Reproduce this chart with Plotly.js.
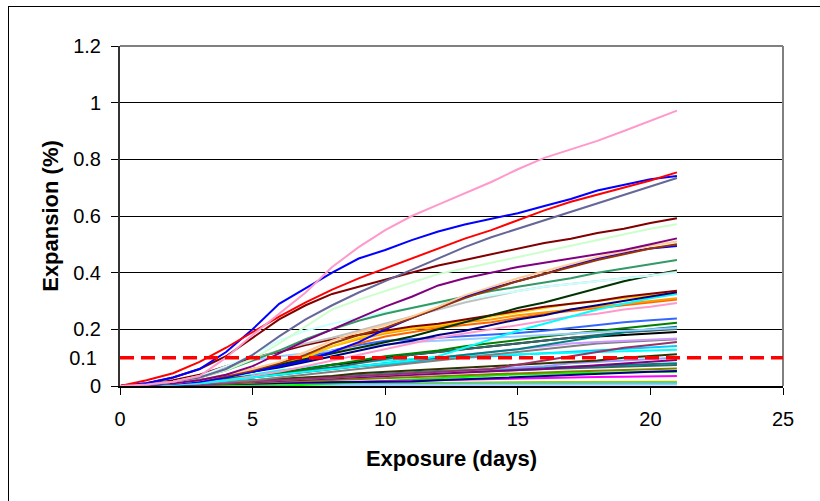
<!DOCTYPE html>
<html>
<head>
<meta charset="utf-8">
<script src="https://cdn.plot.ly/plotly-3.0.1.min.js"></script>
<style>
  html, body { margin: 0; padding: 0; background: #ffffff; }
  #wrap { position: relative; width: 820px; height: 501px; overflow: hidden; }
  #chart { position: absolute; left: 0; top: 0; width: 820px; height: 501px; }
  #frame { position: absolute; left: 8px; top: 6px; width: 900px; height: 600px;
           border-left: 1px solid #000; border-top: 1px solid #000; pointer-events: none; }
</style>
</head>
<body>
<div id="wrap">
  <div id="chart"></div>
  <div id="frame"></div>
</div>
<script>
// ---- data ----
const days = [0,1,2,3,4,5,6,7,8,9,10,11,12,13,14,15,16,17,18,19,20,21];
const threshold = 0.1;
const xTicks = [0, 5, 10, 15, 20, 25];
const yTicks = [0, 0.2, 0.4, 0.6, 0.8, 1, 1.2];

// low / flat series
const sYellowGreen = [0,0.001,0.002,0.003,0.004,0.005,0.006,0.007,0.008,0.009,0.01,0.011,0.012,0.012,0.013,0.013,0.014,0.014,0.014,0.015,0.015,0.015];
const sCyanLow     = [0,0.001,0.001,0.002,0.003,0.004,0.004,0.005,0.005,0.006,0.006,0.007,0.007,0.008,0.008,0.008,0.009,0.009,0.009,0.01,0.01,0.01];
const sLightBlue   = [0,0,0.001,0.001,0.002,0.002,0.002,0.003,0.003,0.003,0.003,0.004,0.004,0.004,0.004,0.004,0.005,0.005,0.005,0.005,0.005,0.005];
const sLime        = [0,0,0,0,0,0,0.001,0.004,0.008,0.013,0.018,0.023,0.028,0.033,0.038,0.041,0.043,0.045,0.046,0.048,0.049,0.05];
const sMagenta     = [0,0.001,0.002,0.004,0.006,0.008,0.01,0.012,0.014,0.016,0.018,0.02,0.022,0.024,0.026,0.028,0.03,0.031,0.032,0.033,0.034,0.035];
const sNavyLow     = [0,0.002,0.004,0.006,0.008,0.01,0.011,0.012,0.013,0.014,0.015,0.016,0.02,0.024,0.028,0.032,0.036,0.04,0.043,0.046,0.05,0.053];
const sOlive       = [0,0.001,0.003,0.005,0.008,0.011,0.014,0.017,0.02,0.023,0.026,0.03,0.034,0.038,0.042,0.045,0.048,0.051,0.054,0.057,0.06,0.062];
const sSlateLow    = [0,0.002,0.004,0.008,0.012,0.017,0.021,0.025,0.03,0.034,0.038,0.042,0.046,0.05,0.054,0.057,0.06,0.063,0.066,0.069,0.071,0.074];
const sTealLow     = [0,0.002,0.005,0.01,0.015,0.02,0.025,0.03,0.035,0.04,0.045,0.05,0.053,0.056,0.059,0.062,0.065,0.068,0.071,0.074,0.077,0.08];
const sPurpleLow   = [0,0.001,0.003,0.006,0.01,0.014,0.018,0.022,0.026,0.03,0.034,0.038,0.042,0.046,0.05,0.055,0.06,0.067,0.074,0.08,0.086,0.092];
const sPeriwinkle  = [0,0.002,0.004,0.008,0.012,0.016,0.02,0.025,0.03,0.035,0.04,0.045,0.05,0.055,0.06,0.065,0.07,0.08,0.085,0.09,0.095,0.1];
const sOliveDark   = [0,0.002,0.005,0.01,0.015,0.02,0.025,0.03,0.035,0.045,0.05,0.055,0.06,0.065,0.07,0.075,0.08,0.085,0.09,0.1,0.106,0.112];
const sSky         = [0,0.003,0.008,0.015,0.025,0.035,0.045,0.055,0.065,0.07,0.075,0.085,0.095,0.1,0.105,0.11,0.115,0.12,0.125,0.13,0.135,0.141];
const sAqua        = [0,0.003,0.008,0.015,0.025,0.04,0.055,0.065,0.075,0.085,0.09,0.095,0.1,0.105,0.11,0.112,0.115,0.118,0.12,0.122,0.125,0.128];
const sPlum        = [0,0.002,0.004,0.008,0.012,0.016,0.02,0.025,0.03,0.035,0.04,0.045,0.05,0.055,0.06,0.075,0.09,0.105,0.12,0.135,0.145,0.155];
const sGray        = [0,0.002,0.005,0.01,0.015,0.02,0.03,0.04,0.05,0.06,0.07,0.08,0.09,0.1,0.11,0.12,0.13,0.14,0.15,0.155,0.16,0.165];
const sLavender    = [0,0.002,0.005,0.01,0.02,0.03,0.04,0.05,0.06,0.07,0.08,0.09,0.1,0.11,0.12,0.13,0.14,0.15,0.155,0.16,0.165,0.168];
const sBlack       = [0,0.003,0.008,0.015,0.025,0.035,0.045,0.06,0.075,0.085,0.1,0.11,0.12,0.13,0.14,0.15,0.16,0.17,0.175,0.18,0.186,0.191];
const sSlate2      = [0,0.003,0.008,0.015,0.025,0.035,0.045,0.055,0.065,0.08,0.095,0.11,0.12,0.13,0.14,0.15,0.16,0.17,0.18,0.19,0.195,0.201];
const sTeal        = [0,0.002,0.006,0.012,0.02,0.03,0.04,0.05,0.06,0.07,0.08,0.09,0.1,0.11,0.12,0.13,0.145,0.16,0.175,0.19,0.2,0.209];
const sGreen       = [0,0.003,0.008,0.015,0.025,0.035,0.045,0.06,0.075,0.09,0.105,0.115,0.125,0.14,0.15,0.162,0.175,0.185,0.195,0.205,0.215,0.223];
const sBlue3       = [0,0.003,0.008,0.015,0.03,0.06,0.08,0.1,0.125,0.145,0.16,0.165,0.17,0.175,0.18,0.187,0.195,0.205,0.215,0.225,0.232,0.238];
const sPaleBlue    = [0,0.005,0.015,0.035,0.065,0.09,0.105,0.115,0.125,0.135,0.145,0.155,0.16,0.165,0.17,0.175,0.18,0.185,0.19,0.195,0.2,0.205];
// middle series
const sPink2       = [0,0.002,0.006,0.012,0.02,0.035,0.05,0.07,0.09,0.11,0.13,0.15,0.17,0.185,0.2,0.215,0.23,0.245,0.255,0.27,0.28,0.293];
const sOrangeRed   = [0,0.003,0.01,0.02,0.035,0.05,0.07,0.09,0.12,0.15,0.175,0.19,0.205,0.215,0.225,0.24,0.255,0.265,0.275,0.285,0.295,0.305];
const sOrange      = [0,0.003,0.01,0.02,0.04,0.06,0.08,0.105,0.14,0.165,0.185,0.2,0.21,0.225,0.235,0.25,0.26,0.27,0.28,0.29,0.3,0.31];
const sCyan        = [0,0.002,0.005,0.01,0.02,0.03,0.04,0.05,0.06,0.07,0.08,0.09,0.105,0.135,0.165,0.195,0.22,0.245,0.27,0.29,0.31,0.325];
const sGold        = [0,0.003,0.01,0.02,0.035,0.055,0.075,0.1,0.14,0.17,0.19,0.205,0.215,0.23,0.245,0.26,0.275,0.29,0.3,0.31,0.32,0.33];
const sNavy        = [0,0.003,0.01,0.02,0.035,0.05,0.065,0.085,0.105,0.125,0.145,0.16,0.18,0.195,0.215,0.235,0.25,0.27,0.285,0.3,0.315,0.331];
const sMaroon2     = [0,0.005,0.02,0.04,0.07,0.1,0.12,0.145,0.165,0.18,0.195,0.21,0.22,0.235,0.25,0.265,0.28,0.29,0.3,0.315,0.325,0.336];
const sDarkGreen   = [0,0.003,0.01,0.02,0.035,0.055,0.075,0.095,0.115,0.135,0.155,0.175,0.2,0.225,0.25,0.275,0.295,0.32,0.345,0.37,0.39,0.408];
const sSilver      = [0,0.005,0.015,0.03,0.06,0.095,0.125,0.15,0.17,0.195,0.22,0.245,0.27,0.295,0.315,0.335,0.35,0.36,0.37,0.38,0.39,0.403];
const sLightCyan   = [0,0.005,0.015,0.035,0.07,0.11,0.16,0.195,0.22,0.24,0.26,0.275,0.29,0.305,0.32,0.335,0.35,0.36,0.37,0.38,0.39,0.4];
const sSeaGreen    = [0,0.005,0.015,0.03,0.055,0.09,0.125,0.165,0.2,0.23,0.255,0.275,0.295,0.315,0.335,0.35,0.365,0.38,0.4,0.415,0.43,0.445];
const sBlue2       = [0,0.003,0.008,0.015,0.03,0.05,0.07,0.09,0.12,0.155,0.2,0.24,0.275,0.315,0.345,0.37,0.395,0.425,0.45,0.47,0.485,0.494];
const sBrown       = [0,0.005,0.01,0.02,0.035,0.055,0.08,0.11,0.15,0.18,0.205,0.24,0.275,0.31,0.34,0.37,0.395,0.42,0.445,0.465,0.485,0.5];
const sLightOrange = [0,0.005,0.01,0.02,0.04,0.06,0.085,0.12,0.16,0.19,0.215,0.245,0.28,0.32,0.35,0.38,0.405,0.43,0.455,0.475,0.495,0.51];
// upper series
const sPurple      = [0,0.005,0.01,0.02,0.04,0.07,0.115,0.16,0.2,0.24,0.28,0.315,0.355,0.38,0.4,0.42,0.435,0.45,0.465,0.48,0.5,0.521];
const sLightGreen  = [0,0.005,0.015,0.03,0.055,0.095,0.15,0.21,0.27,0.305,0.335,0.365,0.395,0.415,0.435,0.455,0.475,0.495,0.515,0.535,0.555,0.571];
const sMaroon      = [0,0.01,0.03,0.06,0.105,0.17,0.235,0.285,0.325,0.35,0.375,0.4,0.425,0.445,0.465,0.485,0.505,0.52,0.54,0.555,0.575,0.592];
const sSlate       = [0,0.005,0.015,0.03,0.06,0.11,0.175,0.235,0.285,0.33,0.37,0.41,0.45,0.49,0.525,0.555,0.585,0.615,0.645,0.675,0.705,0.734];
const sBlue        = [0,0.01,0.03,0.06,0.12,0.2,0.29,0.345,0.4,0.45,0.48,0.515,0.545,0.57,0.59,0.61,0.635,0.66,0.69,0.71,0.73,0.741];
const sRed         = [0,0.02,0.045,0.085,0.135,0.19,0.245,0.295,0.34,0.38,0.415,0.45,0.485,0.52,0.55,0.585,0.62,0.65,0.675,0.7,0.725,0.754];
const sPink        = [0,0.005,0.015,0.035,0.1,0.18,0.255,0.33,0.42,0.49,0.55,0.6,0.64,0.68,0.72,0.765,0.805,0.835,0.865,0.9,0.935,0.972];

const seriesValues = [
  sYellowGreen, sCyanLow, sLightBlue, sLime, sMagenta, sNavyLow, sOlive, sSlateLow, sTealLow,
  sPurpleLow, sPeriwinkle, sOliveDark, sSky, sAqua, sPlum, sGray, sLavender, sBlack, sSlate2,
  sTeal, sGreen, sBlue3, sPaleBlue, sPink2, sOrangeRed, sOrange, sCyan, sGold, sNavy, sMaroon2,
  sDarkGreen, sSilver, sLightCyan, sSeaGreen, sBlue2, sBrown, sLightOrange,
  sPurple, sLightGreen, sMaroon, sSlate, sBlue, sRed, sPink
];
const seriesColors = [
  '#99cc00', '#33cccc', '#99ccff', '#00ff00', '#ff00ff', '#000080', '#808000', '#336666', '#008080',
  '#800080', '#9999ff', '#333300', '#00ccff', '#00ffff', '#993366', '#808080', '#cc99ff', '#000000', '#336666',
  '#008080', '#008000', '#3366ff', '#99ccff', '#ff99cc', '#ff6600', '#ff9900', '#00ffff', '#ffcc00', '#000080', '#800000',
  '#003300', '#c0c0c0', '#ccffff', '#339966', '#0000ff', '#993300', '#ffcc99',
  '#800080', '#ccffcc', '#800000', '#666699', '#0000ff', '#ff0000', '#ff99cc'
];

const FONT = 'Liberation Sans, Arial, Helvetica, sans-serif';

const traces = seriesValues.map((vals, i) => ({
  type: 'scatter', mode: 'lines', x: days, y: vals,
  line: { color: seriesColors[i], width: 2 },
  hoverinfo: 'skip', showlegend: false
}));
// invisible trace that carries the extra 0.1 label axis
traces.push({ type: 'scatter', mode: 'lines', x: [0], y: [threshold], yaxis: 'y2',
  line: { width: 0 }, hoverinfo: 'skip', showlegend: false });

const layout = {
  width: 820, height: 501,
  margin: { l: 120, r: 37, t: 46, b: 115 },
  paper_bgcolor: '#ffffff', plot_bgcolor: '#ffffff',
  font: { family: FONT, color: '#000000', size: 20 },
  showlegend: false,
  xaxis: {
    range: [0, 25], tickvals: xTicks, ticks: 'outside', ticklen: 7, tickwidth: 1, tickcolor: '#000',
    showgrid: false, zeroline: false, showline: true, linecolor: '#000', linewidth: 1.5,
    tickfont: { family: FONT, size: 20 }, ticklabelstandoff: 7,
    title: { text: 'Exposure (days)', font: { family: FONT, size: 22, weight: 'bold' }, standoff: 22 },
    fixedrange: true
  },
  yaxis: {
    range: [0, 1.2], tickvals: yTicks, ticks: 'outside', ticklen: 7, tickwidth: 1, tickcolor: '#000',
    showgrid: true, gridcolor: '#000000', gridwidth: 1, zeroline: false,
    showline: true, linecolor: '#333333', linewidth: 2,
    tickfont: { family: FONT, size: 20 }, ticklabelstandoff: 6,
    title: { text: 'Expansion (%)', font: { family: FONT, size: 22, weight: 'bold' }, standoff: 8 },
    fixedrange: true
  },
  yaxis2: {
    overlaying: 'y', side: 'left', range: [0, 1.2], tickvals: [threshold], ticktext: ['0.1'],
    ticks: '', showgrid: false, zeroline: false, showline: false,
    tickfont: { family: FONT, size: 20 }, ticklabelstandoff: 22, fixedrange: true
  },
  shapes: [
    { type: 'line', xref: 'paper', yref: 'paper', x0: 0, x1: 1, y0: 1, y1: 1,
      line: { color: '#808080', width: 2 }, layer: 'above' },
    { type: 'line', xref: 'paper', yref: 'paper', x0: 1, x1: 1, y0: 0, y1: 1,
      line: { color: '#808080', width: 2 }, layer: 'above' },
    { type: 'line', xref: 'x', yref: 'y', x0: 0, x1: 25, y0: threshold, y1: threshold,
      line: { color: '#ff0000', width: 3.5, dash: '14px,7px' }, layer: 'above' }
  ]
};

Plotly.newPlot('chart', traces, layout, { staticPlot: true, displayModeBar: false });
</script>
</body>
</html>
